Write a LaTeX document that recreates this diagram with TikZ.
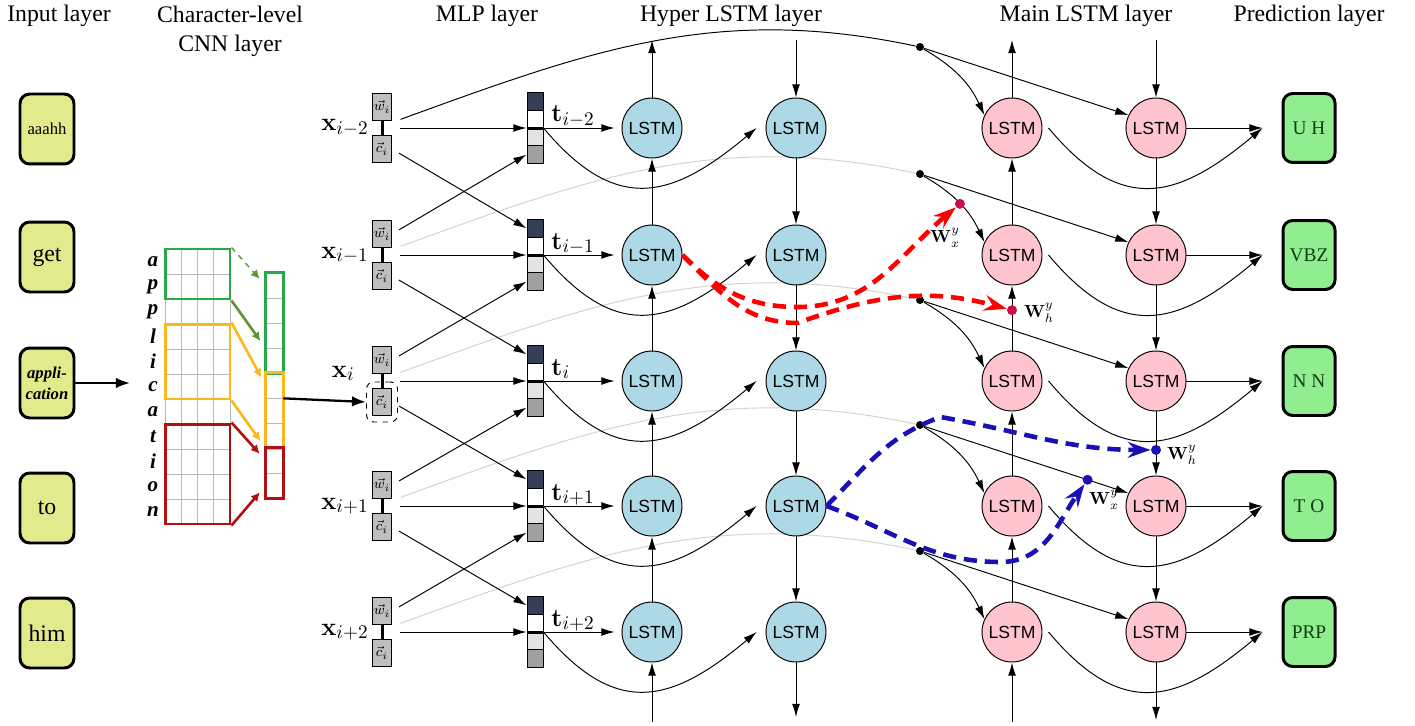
\documentclass[tikz,border=0pt]{standalone}
\usepackage[no-math]{fontspec}
\setmainfont{Liberation Serif}
\setsansfont{Liberation Sans}
\usepackage{amsmath}
\usepackage{amssymb}
\usepackage{tikz}
\usetikzlibrary{arrows.meta}

\definecolor{wordfill}{RGB}{226,234,140}
\definecolor{tagfill}{RGB}{144,238,144}
\definecolor{tagtext}{RGB}{20,60,20}
\definecolor{hyperfill}{RGB}{173,216,230}
\definecolor{mainfill}{RGB}{255,196,206}
\definecolor{cnngreen}{RGB}{40,168,72}
\definecolor{cnnyellow}{RGB}{250,184,28}
\definecolor{cnnred}{RGB}{178,16,16}
\definecolor{arrgreen}{RGB}{96,150,48}
\definecolor{darkcell}{RGB}{52,62,86}
\definecolor{wdotred}{RGB}{200,16,70}
\definecolor{dashblue}{RGB}{26,16,180}

\begin{document}
\begin{tikzpicture}[x=0.02cm, y=-0.02cm, line width=0.55pt,
	>={Latex[length=7.5pt,width=4.5pt]},
	title/.style={font=\fontsize{13.5}{16.5}\selectfont, align=center, inner sep=0pt},
	word_box/.style={draw, line width=1.7pt, rounded corners=5.5pt, fill=wordfill, minimum width=1.08cm, minimum height=1.40cm, inner sep=1pt, align=center, font=\fontsize{13.5}{16}\selectfont},
	tag_box/.style={draw, line width=1.7pt, rounded corners=5.5pt, fill=tagfill, text=tagtext, minimum width=1.04cm, minimum height=1.38cm, inner sep=1pt, font=\fontsize{11}{13}\selectfont},
	char_lbl/.style={font=\fontsize{12}{14}\selectfont\bfseries\itshape, inner sep=0pt},
	grid_line/.style={draw=gray!55, line width=0.4pt},
	filter_box/.style={line width=1.7pt, minimum width=1.3cm, inner sep=0pt},
	out_cell/.style={draw=gray!55, line width=0.4pt, minimum width=0.34cm, minimum height=0.5cm, inner sep=0pt},
	cnn_arrow/.style={line width=1.5pt, shorten >=0.18cm, -{Latex[length=5pt,width=5pt]}},
	thick_arrow/.style={line width=1.3pt, -{Latex[length=8pt,width=6pt]}},
	xgrp/.style={minimum width=0.72cm, minimum height=0.76cm, inner sep=0pt},
	xin_box/.style={draw, fill=gray!50, minimum width=0.38cm, minimum height=0.54cm, inner sep=0pt, font=\fontsize{8}{9}\selectfont},
	tgrp/.style={minimum width=0.32cm, minimum height=1.42cm, inner sep=0pt},
	vec_cell/.style={draw, minimum width=0.32cm, minimum height=0.355cm, inner sep=0pt},
	math_lbl/.style={font=\fontsize{15}{18}\selectfont, inner sep=0pt},
	w_lbl/.style={font=\fontsize{10}{12}\selectfont, inner sep=0pt},
	lstm_hyper/.style={circle, draw, fill=hyperfill, minimum size=1.2cm, inner sep=0pt, font=\sffamily\fontsize{10}{12}\selectfont},
	lstm_main/.style={lstm_hyper, fill=mainfill},
	jn_dot/.style={circle, fill=black, minimum size=0.16cm, inner sep=0pt},
	w_dot/.style={circle, minimum size=0.2cm, inner sep=0pt},
	hyper_link/.style={draw=gray!35},
	red_flow/.style={draw=red, line width=2.6pt, dash pattern=on 7.5pt off 4.5pt, -{Stealth[length=13pt,width=9pt,inset=4.5pt]}},
	blue_flow/.style={red_flow, draw=dashblue}]
	\useasboundingbox (0,0) rectangle (1415,726);

	% layer titles
	\node[title] (lbl_input) at (59,16) {Input layer};
	\node[title] (lbl_cnn) at (230,31) {Character-level\\CNN layer};
	\node[title] (lbl_mlp) at (487,16) {MLP layer};
	\node[title] (lbl_hyper) at (731,16) {Hyper LSTM layer};
	\node[title] (lbl_main) at (1086,16) {Main LSTM layer};
	\node[title] (lbl_pred) at (1309,16) {Prediction layer};

	% input words
	\node[word_box, font=\fontsize{9.5}{11}\selectfont] (in1) at (47,129) {aaahh};
	\node[word_box] (in2) at (47,257) {get};
	\node[word_box, font=\fontsize{9.5}{12}\selectfont\bfseries\itshape] (in3) at (47,383) {appli-\\cation};
	\node[word_box] (in4) at (47,508) {to};
	\node[word_box] (in5) at (47,633) {him};

	% character-level CNN
	\foreach \ch [count=\r from 0] in {a,p,p,l,i,c,a,t,i,o,n}
		\node[char_lbl] (ch\r) at (153,261.5+25*\r) {\ch};
	\draw[grid_line] (165,249) rectangle (230,524);
	\foreach \c in {1,2,3}
		\draw[grid_line] (165+16.25*\c,249) -- (165+16.25*\c,524);
	\foreach \r in {1,...,10}
		\draw[grid_line] (165,249+25*\r) -- (230,249+25*\r);
	\node[filter_box, draw=cnngreen, minimum height=1cm] (fgreen) at (197.5,274) {};
	\node[filter_box, draw=cnnyellow, minimum height=1.5cm] (fyellow) at (197.5,361.5) {};
	\node[filter_box, draw=cnnred, minimum height=2cm] (fred) at (197.5,474) {};
	\foreach \r in {1,...,9}
		\node[out_cell] (o\r) at (274.5,260.5+25*\r) {};
	\draw[cnngreen, line width=1.7pt] (o1.north west) rectangle (o4.south east);
	\draw[cnnyellow, line width=1.7pt] (o5.north west) rectangle (o7.south east);
	\draw[cnnred, line width=1.7pt] (o8.north west) rectangle (o9.south east);
	\draw[cnn_arrow, arrgreen, line width=0.8pt, dashed] (fgreen.north east) -- (o1.west);
	\draw[cnn_arrow, arrgreen] (fgreen.south east) -- (o3.south west);
	\draw[cnn_arrow, cnnyellow] (fyellow.north east) -- (o5.west);
	\draw[cnn_arrow, cnnyellow] (fyellow.south east) -- (o7.south west);
	\draw[cnn_arrow, cnnred] (fred.north east) -- (o8.west);
	\draw[cnn_arrow, cnnred] (fred.south east) -- (o9.west);
	\coordinate (cnn_in) at (130,383);
	\draw[thick_arrow] (in3) -- (cnn_in);

	% MLP inputs, t vectors and junction dots
	\foreach \k/\y/\sub/\lx/\ly in {1/128/i-2/369/131, 2/255/i-1/369/258, 3/381/i/355/377, 4/506/i+1/369/509, 5/632/i+2/369/635}{
		\node[xgrp] (x\k) at (382,\y) {};
		\node[xin_box] (w\k) at (382,\y-21) {$\vec{w}_i$};
		\node[xin_box] (c\k) at (382,\y+21) {$\vec{c}_i$};
		\draw[line width=1.7pt] (w\k) -- (c\k);
		\node[math_lbl, anchor=base east] (xl\k) at (\lx,\ly) {$\mathbf{x}_{\sub}$};
		\node[tgrp] (t\k) at (535,\y) {};
		\node[vec_cell, fill=darkcell] (ta\k) at (535,\y-26.6) {};
		\node[vec_cell, fill=white] (tb\k) at (535,\y-8.9) {};
		\node[vec_cell, fill=gray!22] (tc\k) at (535,\y+8.9) {};
		\node[vec_cell, fill=gray!75] (td\k) at (535,\y+26.6) {};
		\draw[line width=1.2pt] (tb\k.south west) -- (tb\k.south east);
		\node[math_lbl, anchor=base west] (tl\k) at (551,\y-6) {$\mathbf{t}_{\sub}$};
		\node[jn_dot] (d\k) at (920,\y-81) {};
	}
	\node[draw, dashed, rounded corners=4pt, minimum width=0.62cm, minimum height=0.8cm] (c3f) at (c3) {};
	\draw[thick_arrow] (o5.south east) -- (c3f.west);

	% links from the inputs to the main layer
	\draw (x1.25) to[out=20,in=168] (d1);
	\foreach \k in {2,...,5}
		\draw[hyper_link] (x\k.25) to[out=20,in=168] (d\k);

	% LSTM cells and predictions
	\foreach \k/\y/\tg in {1/128/U H, 2/255/VBZ, 3/381/N N, 4/506/T O, 5/632/PRP}{
		\node[lstm_hyper] (ha\k) at (652,\y) {LSTM};
		\node[lstm_hyper] (hb\k) at (796,\y) {LSTM};
		\node[lstm_main] (ma\k) at (1012,\y) {LSTM};
		\node[lstm_main] (mb\k) at (1156,\y) {LSTM};
		\node[tag_box] (tag\k) at (1309,\y) {\tg};

		\draw[->] (x\k) -- (t\k);
		\draw[->, shorten >=0.14cm] (t\k) -- (ha\k);
		\draw[->] (t\k.east) to[out=-50,in=-140,looseness=1.35] ([xshift=-0.18cm]hb\k.west);
		\draw[->] (d\k) to[out=-30,in=115] coordinate[pos=0.5] (wxa\k) (ma\k.155);
		\draw[->] (d\k) -- coordinate[pos=0.8] (wxb\k) (mb\k.155);
		\draw[->] ([xshift=0.12cm]ma\k.east) to[out=-50,in=-140,looseness=1.35] ([xshift=-0.38cm]tag\k.west);
		\draw[->] (mb\k) -- ([xshift=-0.38cm]tag\k.west);
	}

	% connections between neighbouring rows
	\foreach \k/\n in {1/2,2/3,3/4,4/5}{
		\draw[->] (ha\n) -- (ha\k);
		\draw[->] (hb\k) -- (hb\n);
		\draw[->] (ma\n) -- coordinate[pos=0.62] (pa\n) (ma\k);
		\draw[->] (mb\k) -- coordinate[pos=0.6] (pb\k) (mb\n);
		\draw[->, shorten <=0.16cm] (c\k.east) -- (ta\n.west);
		\draw[->, shorten <=0.16cm] (w\n.east) -- (td\k.west);
	}

	% open ends at top and bottom
	\coordinate (ha_top) at (652,40);
	\coordinate (hb_top) at (796,40);
	\coordinate (ma_top) at (1012,40);
	\coordinate (mb_top) at (1156,40);
	\coordinate (ha_bot) at (652,722);
	\coordinate (hb_bot) at (796,717);
	\coordinate (ma_bot) at (1012,722);
	\coordinate (mb_bot) at (1156,720);
	\draw[->] (ha1) -- (ha_top);
	\draw[->] (hb_top) -- (hb1);
	\draw[->] (ma1) -- (ma_top);
	\draw[->] (mb_top) -- (mb1);
	\draw[->] (ha_bot) -- (ha5);
	\draw[->] (hb5) -- (hb_bot);
	\draw[->] (ma_bot) -- (ma5);
	\draw[->] (mb5) -- (mb_bot);

	% hyper weights
	\node[w_dot, fill=wdotred] (wx_red) at (wxa2) {};
	\node[w_dot, fill=wdotred] (wh_red) at (pa3) {};
	\node[w_dot, fill=dashblue] (wh_blue) at (pb3) {};
	\node[w_dot, fill=dashblue] (wx_blue) at (wxb4) {};
	\draw[red_flow] (ha2.east) to[out=-45,in=180] ++(115,52) to[out=0,in=220] (wx_red);
	\draw[red_flow] (ha2.east) to[out=-45,in=180] ++(115,68) to[out=20,in=165] (wh_red);
	\draw[blue_flow] (hb4.east) to[out=45,in=200] ++(114,-89) to[out=-10,in=180] (wh_blue);
	\draw[blue_flow] (hb4.east) to[out=-20,in=180] ++(174,56) to[out=0,in=235] (wx_blue);
	\node[w_lbl] (lwx_red) at (945,238) {$\mathbf{W}_{x\vphantom{h}}^{y}$};
	\node[w_lbl] (lwh_red) at (1039,313) {$\mathbf{W}_h^y$};
	\node[w_lbl] (lwh_blue) at (1182,455) {$\mathbf{W}_h^y$};
	\node[w_lbl] (lwx_blue) at (1104,500) {$\mathbf{W}_{x\vphantom{h}}^{y}$};
\end{tikzpicture}
\end{document}
